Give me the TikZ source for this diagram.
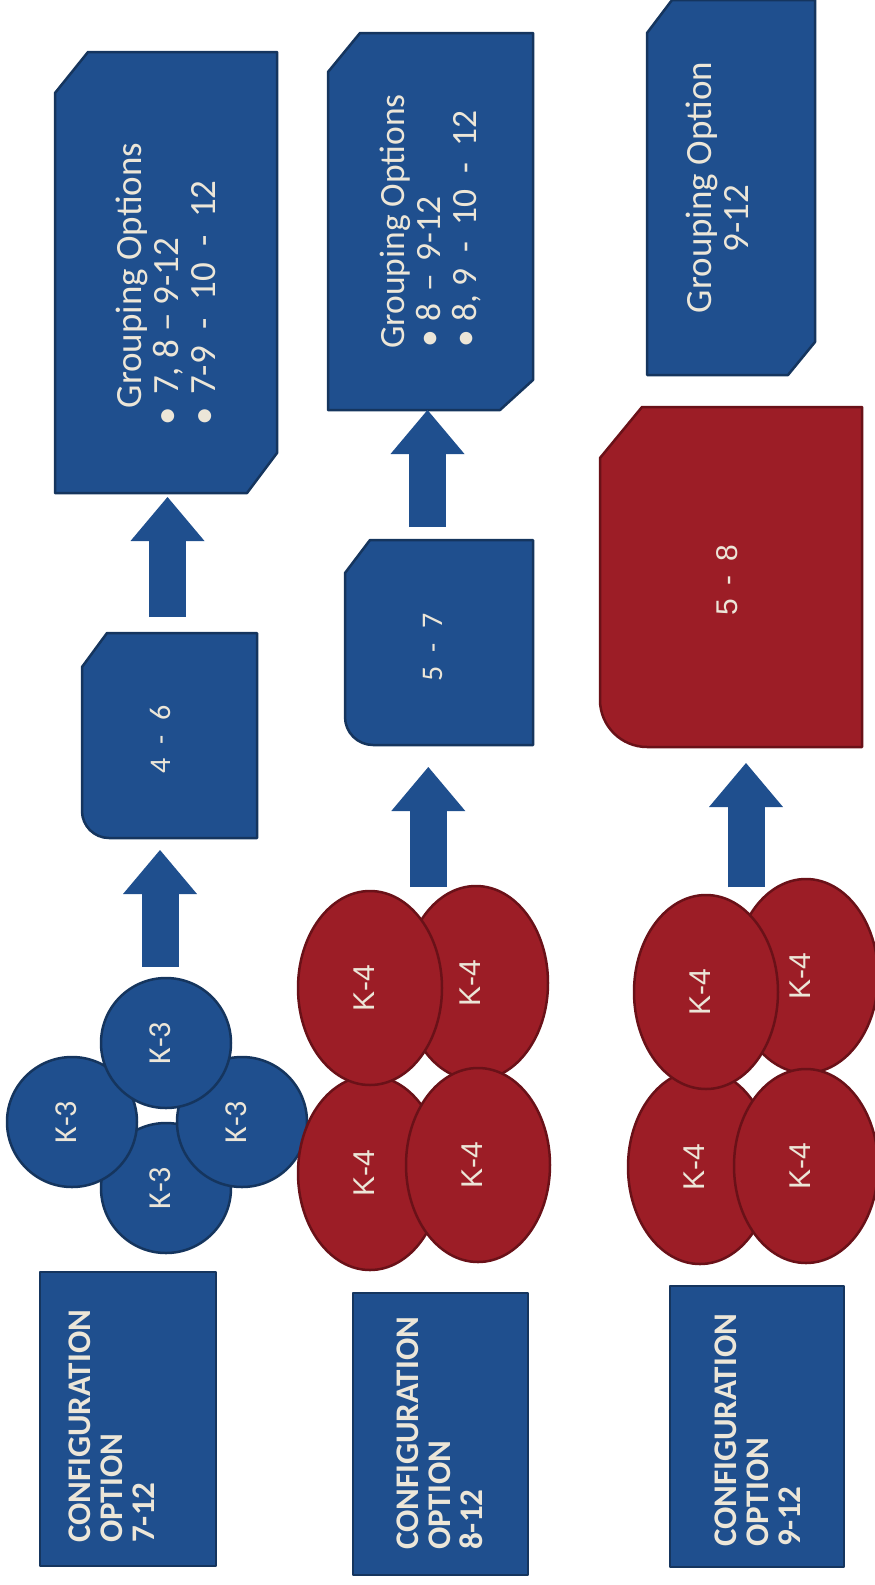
\documentclass[tikz,border=0pt]{standalone}
\usepackage{fontspec}
\setmainfont{Carlito}
\newfontfamily\plainsans{Liberation Sans}
\usetikzlibrary{arrows.meta,shapes.geometric,calc}
\definecolor{grpBlue}{HTML}{1F4F8E}
\definecolor{grpNavy}{HTML}{15355E}
\definecolor{grpRed}{HTML}{9C1D26}
\definecolor{grpMaroon}{HTML}{6A1118}
\definecolor{grpCream}{HTML}{ECE6D8}
% bullet: shift before the dot, gap after it
\newcommand{\grpitem}[2]{\hspace*{#1}\textbullet\hspace{#2}}
% dash with wide gaps
\newcommand{\grpdash}[2]{\hspace{#1}#2\hspace{#1}}
\newcommand{\grpgap}{\hspace{14pt}}
\tikzset{
  grp spot/.style={rectangle, draw=none, inner sep=0pt, outer sep=0pt},
  grp box/.style={line width=2.5pt, line join=round},
  grp blue/.style={grp box, fill=grpBlue, draw=grpNavy},
  grp red/.style={grp box, fill=grpRed, draw=grpMaroon},
  grp conf/.style={rectangle, grp blue, inner sep=0pt, outer sep=0pt},
  grp disc/.style={circle, grp blue, minimum size=130pt, inner sep=0pt},
  grp oval/.style={ellipse, grp red, minimum width=144pt, minimum height=194pt, inner sep=0pt},
  grp arrow/.style={draw=grpBlue, line width=37pt, -{Triangle[width=74pt,length=44pt,line width=0pt]}},
  grp text/.style={rotate=90, inner sep=0pt, text=grpCream, font=\fontsize{37}{37}\selectfont},
  grp conf text/.style={grp text, anchor=north west, align=left, font=\fontsize{33}{32}\selectfont\bfseries},
  grp k text/.style={grp text, font=\fontsize{32}{32}\selectfont},
  grp k4 text/.style={grp text, font=\plainsans\fontsize{30}{30}\selectfont},
  grp level text/.style={grp text, font=\fontsize{30}{32}\selectfont},
}

\begin{document}
\begin{tikzpicture}[x=1pt, y=-1pt]
  \useasboundingbox (0,0) rectangle (875,1585);

  % column 1: four K-3 discs
  \foreach \n/\x/\y in {k3b/166/1188, k3l/72/1122, k3r/242/1122, k3t/166/1043} {
    \node[grp disc] (\n) at (\x,\y) {};
    \node[grp k text] (\n-t) at ([xshift=-6pt]\n.center) {K-3};
  }

  % columns 2 and 3: four K-4 ovals each
  \foreach \n/\x/\y in {c2ll/370/1173, c2ur/476/983, c2lr/478/1165, c2ul/370/988,
                        c3ll/700/1167, c3ur/806/976, c3lr/806/1166, c3ul/706/992} {
    \node[grp oval] (\n) at (\x,\y) {};
    \node[grp k4 text] (\n-t) at ([xshift=-6pt]\n.center) {K-4};
  }

  % level boxes
  \node[grp spot, minimum width=175pt, minimum height=205pt] (b46) at (169.5,735.5) {};
  \node[grp spot, minimum width=188pt, minimum height=205pt] (b57) at (439,642.5) {};
  \node[grp spot, minimum width=262pt, minimum height=340pt] (b58) at (731,577) {};
  \foreach \b/\f/\d/\cx/\cy/\r in {b46/grpBlue/grpNavy/25pt/34pt/27pt,
                                   b57/grpBlue/grpNavy/25pt/33pt/28pt,
                                   b58/grpRed/grpMaroon/42pt/51pt/47pt} {
    \draw[grp box, fill=\f, draw=\d] ([xshift=\cx]\b.north west) -- (\b.north east)
      -- (\b.south east) -- ([xshift=\r]\b.south west)
      .. controls ([xshift=0.45*\r]\b.south west) and ([yshift=0.45*\r]\b.south west)
      .. ([yshift=\r]\b.south west)
      -- ([yshift=-\cy]\b.north west) -- cycle;
  }

  % grouping boxes
  \node[grp spot, minimum width=222pt, minimum height=441pt] (g1) at (166,272.5) {};
  \node[grp spot, minimum width=205pt, minimum height=377pt] (g2) at (430.5,221.5) {};
  \node[grp spot, minimum width=168pt, minimum height=375pt] (g3) at (731,187.5) {};
  \foreach \g/\cx/\cy/\dx/\dy in {g1/33pt/41pt/30pt/40pt, g2/32pt/39pt/33pt/30pt,
                                  g3/25pt/33pt/27pt/33pt} {
    \draw[grp blue] ([xshift=\cx]\g.north west) -- (\g.north east)
      -- ([yshift=\dy]\g.south east) -- ([xshift=-\dx]\g.south east)
      -- (\g.south west) -- ([yshift=-\cy]\g.north west) -- cycle;
  }

  % configuration boxes
  \node[grp conf, minimum width=176pt, minimum height=294pt] (c1) at (128,1419) {};
  \node[grp conf, minimum width=175pt, minimum height=282pt] (c2) at (440.5,1434) {};
  \node[grp conf, minimum width=174pt, minimum height=281pt] (c3) at (757,1426.5) {};

  % block arrows
  \coordinate (a1 foot) at ([xshift=-6pt]k3t.north);
  \draw[grp arrow, shorten <=10pt, shorten >=12pt] (a1 foot) -- (a1 foot |- b46.south);
  \coordinate (a2 foot) at ([xshift=-2pt]b46.north);
  \draw[grp arrow, shorten <=16pt, shorten >=4pt] (a2 foot) -- (a2 foot |- g1.south);
  \coordinate (a3 foot) at ($(c2ul.north)!0.55!(c2ur.north)$);
  \draw[grp arrow, shorten >=22pt] (a3 foot) -- (a3 foot |- b57.south);
  \coordinate (a4 foot) at ([xshift=-11.5pt]b57.north);
  \draw[grp arrow, shorten <=13pt] (a4 foot) -- (a4 foot |- g2.south);
  \coordinate (a5 foot) at ($(c3ul.north)!0.4!(c3ur.north)$);
  \draw[grp arrow, shorten >=16pt] (a5 foot) -- (a5 foot |- b58.south);

  % texts
  \node[grp level text] (b46-t) at ([xshift=-9pt,yshift=-4pt]b46.center) {4\grpgap-\grpgap 6};
  \node[grp level text] (b57-t) at ([xshift=-6pt,yshift=-5pt]b57.center) {5\grpgap-\grpgap 7};
  \node[grp level text, font=\plainsans\fontsize{30}{30}\selectfont] (b58-t) at ([xshift=-4pt,yshift=-3pt]b58.center) {5\grpgap-\grpgap 8};
  \node[grp text, align=left] (g1-t) at ([yshift=-3pt]g1.center)
    {Grouping Options\\
     \grpitem{-17pt}{12pt}7, 8\grpdash{8pt}{--}9-12\\
     \grpitem{-17pt}{12pt}7-9\grpdash{17pt}{-}10\grpdash{17pt}{-}12};
  \node[grp text, align=left, font=\fontsize{35.5}{36}\selectfont] (g2-t) at (g2.center)
    {Grouping Options\\
     \grpitem{1pt}{9pt}8\grpdash{12pt}{--}9-12\\
     \grpitem{1pt}{9pt}8, 9\grpdash{16pt}{-}10\grpdash{16pt}{-}12};
  \node[grp text, align=center] (g3-t) at ([xshift=-14pt]g3.center)
    {Grouping Option\\9-12\hspace{62pt}\mbox{}};
  \node[grp conf text] (c1-t) at ([xshift=29pt,yshift=23pt]c1.south west) {CONFIGURATION\\OPTION\\7-12};
  \node[grp conf text] (c2-t) at ([xshift=44pt,yshift=25pt]c2.south west) {CONFIGURATION\\OPTION\\8-12};
  \node[grp conf text] (c3-t) at ([xshift=45pt,yshift=20pt]c3.south west) {CONFIGURATION\\OPTION\\9-12};
\end{tikzpicture}
\end{document}
